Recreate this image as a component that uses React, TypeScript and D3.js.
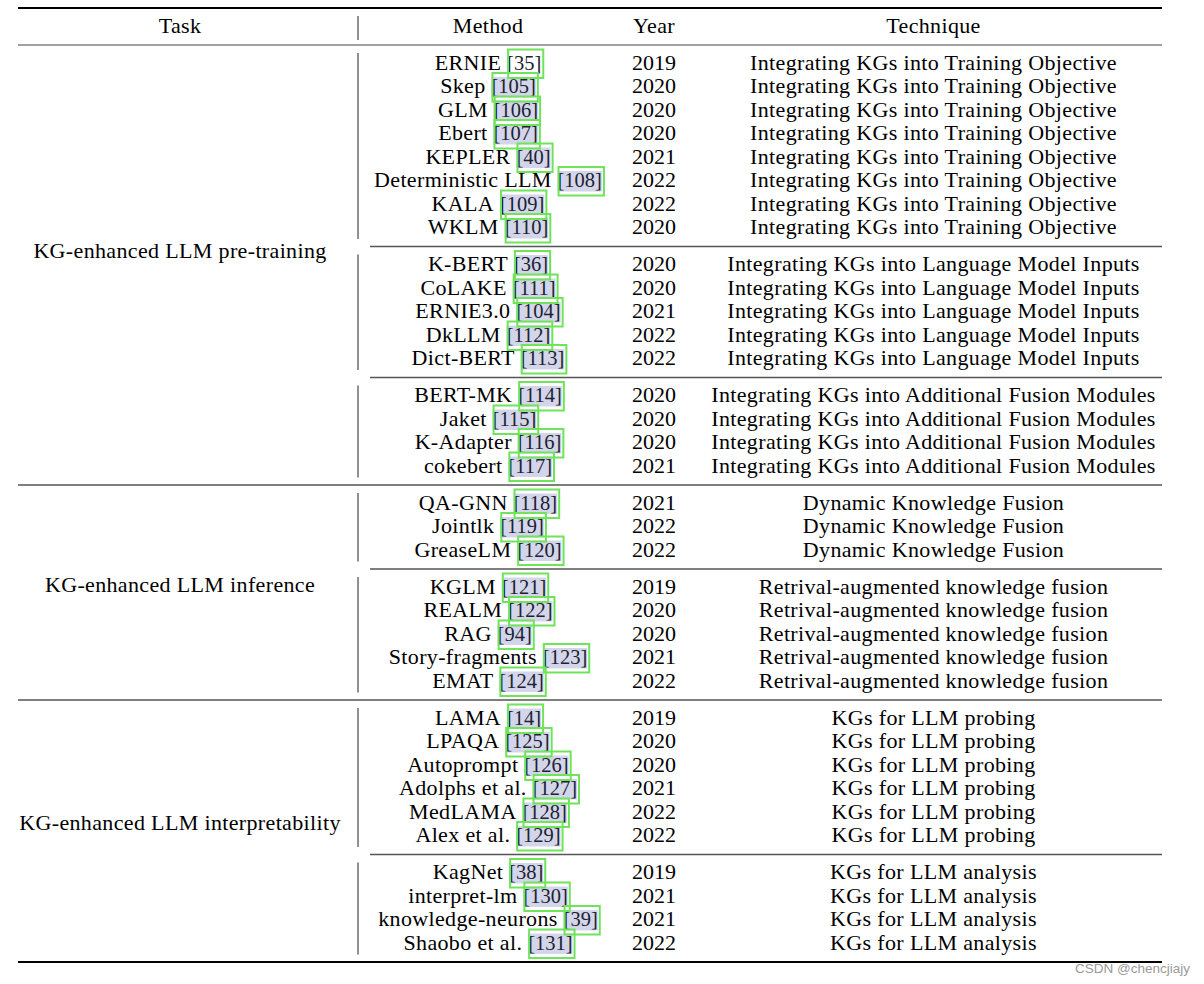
import React, { useEffect, useRef } from "react";
import * as d3 from "d3";

const headers = ["Task", "Method", "Year", "Technique"];
const tasks = [
  "KG-enhanced LLM pre-training",
  "KG-enhanced LLM inference",
  "KG-enhanced LLM interpretability",
];
const subgroupsPerTask = [3, 2, 2];
const subgroupSizes = [8, 5, 4, 3, 5, 6, 4];
const techniques = [
  "Integrating KGs into Training Objective",
  "Integrating KGs into Language Model Inputs",
  "Integrating KGs into Additional Fusion Modules",
  "Dynamic Knowledge Fusion",
  "Retrival-augmented knowledge fusion",
  "KGs for LLM probing",
  "KGs for LLM analysis",
];
const methods = [
  "ERNIE", "Skep", "GLM", "Ebert", "KEPLER", "Deterministic LLM", "KALA", "WKLM",
  "K-BERT", "CoLAKE", "ERNIE3.0", "DkLLM", "Dict-BERT",
  "BERT-MK", "Jaket", "K-Adapter", "cokebert",
  "QA-GNN", "Jointlk", "GreaseLM",
  "KGLM", "REALM", "RAG", "Story-fragments", "EMAT",
  "LAMA", "LPAQA", "Autoprompt", "Adolphs et al.", "MedLAMA", "Alex et al.",
  "KagNet", "interpret-lm", "knowledge-neurons", "Shaobo et al.",
];
const citations = [
  "35", "105", "106", "107", "40", "108", "109", "110",
  "36", "111", "104", "112", "113",
  "114", "115", "116", "117",
  "118", "119", "120",
  "121", "122", "94", "123", "124",
  "14", "125", "126", "127", "128", "129",
  "38", "130", "39", "131",
];
const years = [
  2019, 2020, 2020, 2020, 2021, 2022, 2022, 2020,
  2020, 2020, 2021, 2022, 2022,
  2020, 2020, 2020, 2021,
  2021, 2022, 2022,
  2019, 2020, 2020, 2021, 2022,
  2019, 2020, 2020, 2021, 2022, 2022,
  2019, 2021, 2021, 2022,
];
const watermark = "CSDN @chencjiajy";

const W = 1204;
const H = 984;
const FONT = "'Liberation Serif', 'Times New Roman', serif";
const FS = 22;
const CITE_FS = 20.5;
const LS = 0.35;

export default function App() {
  const ref = useRef<SVGSVGElement | null>(null);

  useEffect(() => {
    const svg = d3.select(ref.current);
    svg.selectAll("*").remove();

    const colX = d3.scaleOrdinal<string, number>().domain(headers).range([180, 488, 654, 933.5]);
    const left = 18;
    const right = 1162;
    const cmidLeft = 370;
    const sepX = 358;
    const rowStep = 23.5;

    const topRule = 8;
    const headBase = 33;
    const headRule = 45;
    type Row = { i: number; base: number; sg: number };
    const rows: Row[] = [];
    const subRules: { y: number; full: boolean }[] = [];
    const subExtents: { top: number; bottom: number }[] = [];
    const taskExtents: { top: number; bottom: number }[] = [];
    let y = headRule;
    let idx = 0;
    let sg = 0;
    subgroupsPerTask.forEach((n) => {
      const tTop = y;
      for (let k = 0; k < n; k++) {
        const sTop = y;
        let b = y + 24.5;
        for (let r = 0; r < subgroupSizes[sg]; r++) {
          rows.push({ i: idx, base: b, sg });
          idx++;
          b += rowStep;
        }
        b -= rowStep;
        y = b + 12.5;
        subExtents.push({ top: sTop, bottom: y });
        subRules.push({ y, full: k === n - 1 });
        sg++;
      }
      taskExtents.push({ top: tTop, bottom: y });
    });

    const g = svg.append("g");
    const hl = g.append("g");

    g.append("line").attr("x1", left).attr("x2", right).attr("y1", topRule).attr("y2", topRule)
      .attr("stroke", "#000").attr("stroke-width", 2);
    g.append("line").attr("x1", left).attr("x2", right).attr("y1", headRule).attr("y2", headRule)
      .attr("stroke", "#444").attr("stroke-width", 1.2);
    subRules.forEach((r, k) => {
      const isBottom = k === subRules.length - 1;
      g.append("line")
        .attr("x1", r.full ? left : cmidLeft)
        .attr("x2", right)
        .attr("y1", r.y)
        .attr("y2", r.y)
        .attr("stroke", isBottom ? "#000" : "#555")
        .attr("stroke-width", isBottom ? 2 : 1.3);
    });

    g.append("line").attr("x1", sepX).attr("x2", sepX).attr("y1", 16).attr("y2", 40)
      .attr("stroke", "#222").attr("stroke-width", 1);
    subExtents.forEach((e) => {
      g.append("line").attr("x1", sepX).attr("x2", sepX).attr("y1", e.top + 8).attr("y2", e.bottom - 7.5)
        .attr("stroke", "#222").attr("stroke-width", 1);
    });

    const txt = (x: number, yy: number, s: string, anchor = "middle", ls = LS) =>
      g.append("text").attr("x", x).attr("y", yy).attr("text-anchor", anchor)
        .attr("font-family", FONT).attr("font-size", FS).attr("letter-spacing", ls)
        .attr("fill", "#000").text(s);

    headers.forEach((h) => txt(colX(h), headBase, h));

    tasks.forEach((t, k) => {
      const e = taskExtents[k];
      txt(colX("Task"), (e.top + e.bottom) / 2 + (k === 0 ? -7 : -1), t);
    });

    const meas = svg.append("text").attr("font-family", FONT).attr("visibility", "hidden");
    const width = (s: string, fs: number, ls: number) => {
      meas.attr("font-size", fs).attr("letter-spacing", ls).text(s);
      return (meas.node() as SVGTextElement).getComputedTextLength();
    };
    const space = FS * 0.25 + LS;

    const boxes = g.append("g");

    rows.forEach((r) => {
      const name = methods[r.i];
      const cite = citations[r.i];
      const wName = width(name, FS, LS);
      const wCite = width("[" + cite + "]", CITE_FS, 0);
      const total = wName + space + wCite;
      const x0 = colX("Method") - total / 2;
      const cx = x0 + wName + space;
      txt(x0, r.base, name, "start");
      if (r.i !== 0) {
        hl.append("rect").attr("x", cx).attr("y", r.base - 16).attr("width", wCite).attr("height", 20.5)
          .attr("fill", "#d3d6ea");
      }
      g.append("text").attr("x", cx).attr("y", r.base).attr("font-family", FONT).attr("font-size", CITE_FS)
        .attr("fill", "#1e2230").text("[" + cite + "]");
      boxes.append("rect").attr("x", cx + 1).attr("y", r.base - 20).attr("width", wCite + 1).attr("height", 28.5)
        .attr("fill", "none").attr("stroke", "#6fe35a").attr("stroke-width", 2);

      txt(colX("Year"), r.base, String(years[r.i]), "middle", 0);
      txt(colX("Technique"), r.base, techniques[r.sg]);
    });
    boxes.raise();
    meas.remove();

    svg.append("text").attr("x", 1190).attr("y", 973).attr("text-anchor", "end")
      .attr("font-family", "'Liberation Sans', Arial, sans-serif").attr("font-size", 13.5)
      .attr("fill", "#9a9a9a").text(watermark);
  }, []);

  return (
    <svg
      ref={ref}
      width={W}
      height={H}
      style={{ position: "absolute", left: 0, top: 0, background: "#fff" }}
    />
  );
}
